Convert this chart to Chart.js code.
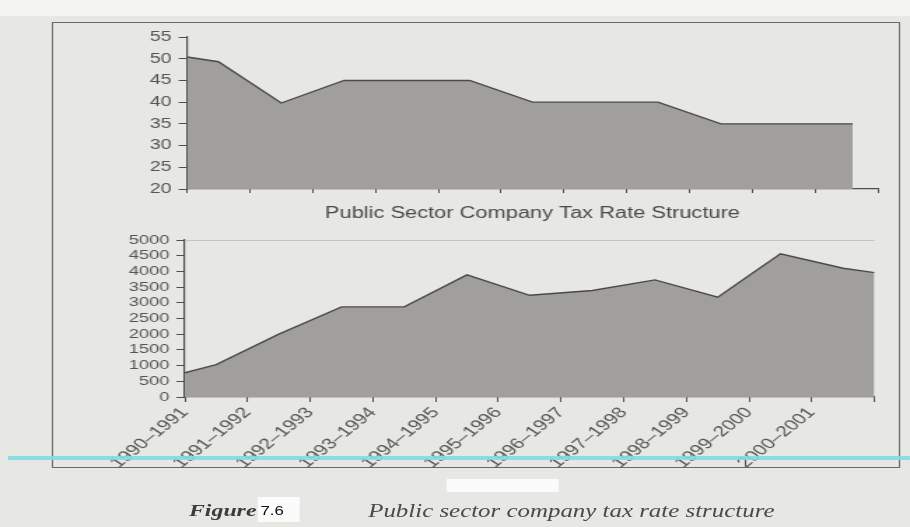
<!DOCTYPE html>
<html>
<head>
<meta charset="utf-8">
<script src="https://cdn.jsdelivr.net/npm/chart.js@4"></script>
<style>
  html, body { margin: 0; padding: 0; }
  body { width: 910px; height: 527px; overflow: hidden; background: #e7e7e3; position: relative; }
  #page { position: absolute; left: 0; top: 0; width: 650px; height: 527px; transform: scaleX(1.4); transform-origin: 0 0; }
  .abs { position: absolute; }
  #paperTop { left: 0; top: 0; width: 650px; height: 16px; background: #f3f3f1; }
  #frame { left: 37px; top: 22px; width: 606px; height: 446px; border: 1px solid #6a6a66; box-sizing: border-box; }
  #cyan { left: 6px; top: 456px; width: 644px; height: 4px; background: #7fdbe4; opacity: 0.9; }
  #c1 { left: 80px; top: 20px; }
  #c2 { left: 60px; top: 225px; }
  #patch1 { left: 319px; top: 479px; width: 80px; height: 13px; background: #fbfbfb; }
  #patch2 { left: 184px; top: 497px; width: 30px; height: 25px; background: #fbfbfb; }
  #fig { left: 135px; top: 501px; font: italic bold 17px "Liberation Serif", serif; color: #3c3c3a; }
  #num { left: 186px; top: 504px; font: 12px "Liberation Sans", sans-serif; color: #111; }
  #cap { left: 263px; top: 501px; font: italic 17.8px "Liberation Serif", serif; color: #4a4a48; }
</style>
</head>
<body>
<div id="page">
  <div class="abs" id="paperTop"></div>
  <div class="abs" id="frame"></div>
  <canvas class="abs" id="c1" width="560" height="206"></canvas>
  <canvas class="abs" id="c2" width="580" height="250"></canvas>
  <div class="abs" id="cyan"></div>
  <div class="abs" id="patch1"></div>
  <div class="abs" id="patch2"></div>
  <div class="abs" id="fig">Figure</div>
  <div class="abs" id="num">7.6</div>
  <div class="abs" id="cap">Public sector company tax rate structure</div>
</div>
<script>
// categories (area values sit between the tick marks, Excel style)
var periods = ['1990–1991', '1991–1992', '1992–1993', '1993–1994', '1994–1995', '1995–1996',
               '1996–1997', '1997–1998', '1998–1999', '1999–2000', '2000–2001'];

// top chart: tax rate (%)
var taxRate = [49.3, 39.8, 45, 45, 45, 40, 40, 40, 35, 35, 35];
var taxRateStart = 50.4;
var taxRateEnd = 35;
var taxRateEndAt = 10.6;
var taxTicks = [20, 25, 30, 35, 40, 45, 50, 55];

// bottom chart
var revenue = [1030, 2000, 2870, 2870, 3890, 3240, 3390, 3730, 3180, 4560, 4100];
var revenueStart = 770;
var revenueEnd = 3960;
var revenueTicks = [0, 500, 1000, 1500, 2000, 2500, 3000, 3500, 4000, 4500, 5000];

var axisColor = '#4e4e4c';
var textColor = '#555553';

function toPoints(vals, start, end, endAt) {
    var pts = [{ x: 0, y: start }];
    vals.forEach(function (v, i) { pts.push({ x: i + 0.5, y: v }); });
    pts.push({ x: endAt, y: end });
    return pts;
}

function areaSet(pts) {
    return {
        data: pts,
        fill: 'start',
        backgroundColor: '#a09f9b',
        borderColor: '#4a4a48',
        borderWidth: 1.4,
        pointRadius: 0,
        tension: 0
    };
}

function fixedTicks(list) {
    return function (s) { s.ticks = list.map(function (v) { return { value: v }; }); };
}

var tax = new Chart(document.getElementById('c1'), {
    type: 'line',
    data: { datasets: [areaSet(toPoints(taxRate, taxRateStart, taxRateEnd, taxRateEndAt))] },
    options: {
        responsive: false,
        animation: false,
        devicePixelRatio: 1,
        layout: { padding: { top: 17, right: 13, left: 0, bottom: 0 } },
        plugins: { legend: { display: false }, tooltip: { enabled: false } },
        scales: {
            x: {
                type: 'linear', min: 0, max: 11,
                ticks: { stepSize: 1, callback: function () { return ''; } },
                grid: { drawOnChartArea: false, tickLength: 4, color: axisColor },
                border: { color: axisColor, width: 1.2 },
                title: {
                    display: true,
                    text: 'Public Sector Company Tax Rate Structure',
                    color: '#4a4a48',
                    font: { family: 'Liberation Sans', size: 15.6 },
                    padding: { top: 0, bottom: 3 }
                },
                afterFit: function (s) { s.height = 37; }
            },
            y: {
                min: 20, max: 55,
                afterBuildTicks: fixedTicks(taxTicks),
                ticks: {
                    autoSkip: false, color: textColor, font: { family: 'Liberation Sans', size: 14 }, padding: 5,
                    callback: function (v) { return String(v); }
                },
                grid: { drawOnChartArea: false, tickLength: 6, color: axisColor },
                border: { color: axisColor, width: 1.2 },
                afterFit: function (s) { s.width = 53.6; }
            }
        }
    }
});

var rev = new Chart(document.getElementById('c2'), {
    type: 'line',
    data: { datasets: [areaSet(toPoints(revenue, revenueStart, revenueEnd, periods.length))] },
    options: {
        responsive: false,
        animation: false,
        devicePixelRatio: 1,
        layout: { padding: { top: 15, right: 11.4, left: 0, bottom: 0 } },
        plugins: { legend: { display: false }, tooltip: { enabled: false } },
        scales: {
            x: {
                type: 'linear', min: 0, max: 11,
                ticks: {
                    stepSize: 1, autoSkip: false, minRotation: 48, maxRotation: 48,
                    color: textColor, font: { family: 'Liberation Sans', size: 15 }, padding: 2,
                    callback: function (v) { return periods[v] || ''; }
                },
                grid: { drawOnChartArea: false, tickLength: 5, color: axisColor },
                border: { color: axisColor, width: 1.2 },
                afterFit: function (s) { s.height = 78; }
            },
            y: {
                min: 0, max: 5000,
                afterBuildTicks: fixedTicks(revenueTicks),
                ticks: {
                    autoSkip: false, color: textColor, font: { family: 'Liberation Sans', size: 13 }, padding: 5,
                    callback: function (v) { return String(v); }
                },
                grid: {
                    tickLength: 6,
                    color: function (c) { return c.tick && c.tick.value === 5000 ? '#c4c4c0' : 'rgba(0,0,0,0)'; },
                    tickColor: axisColor
                },
                border: { color: axisColor, width: 1.2 },
                afterFit: function (s) { s.width = 72; }
            }
        }
    }
});
</script>
</body>
</html>
